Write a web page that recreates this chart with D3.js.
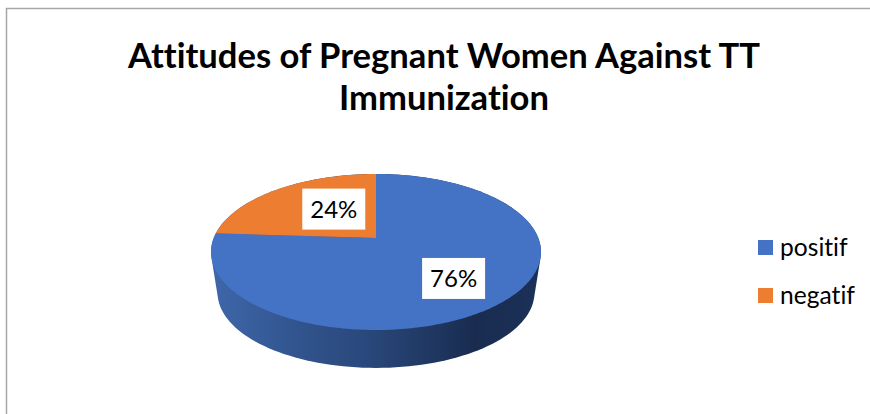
<!DOCTYPE html>
<html>
<head>
<meta charset="utf-8">
<script src="https://cdn.jsdelivr.net/npm/d3@7"></script>
<style>
  html, body { margin: 0; padding: 0; background: #fff; overflow: hidden; }
  text { font-family: Lato, "Open Sans", sans-serif; fill: #000; font-variant-ligatures: none; }
</style>
</head>
<body>
<svg id="chart" width="870" height="414"></svg>
<script>
// data
const categories = ["positif", "negatif"];
const shares = [76, 24];
const labels = ["76%", "24%"];
const titleLines = ["Attitudes of Pregnant Women Against TT", "Immunization"];
const colors = ["#4472c4", "#ed7d31"];

const svg = d3.select("#chart");

// chart frame, runs off the right and bottom of the picture
svg.append("rect")
  .attr("x", 6.5).attr("y", 8.5)
  .attr("width", 900).attr("height", 450)
  .attr("fill", "#fff")
  .attr("stroke", "#a6a6a6")
  .attr("stroke-width", 1.5);

// title
svg.append("g").selectAll("text")
  .data(titleLines)
  .join("text")
  .attr("x", 444)
  .attr("y", (d, i) => 68 + i * 42)
  .attr("text-anchor", "middle")
  .attr("font-size", 34.6)
  .attr("font-weight", 700)
  .text(d => d);

// pie is tilted with a bit of perspective, so the centre sits above the ellipse middle
const cx = 376, apexY = 238;
const persp = 0.1795, spreadX = 162.3, spreadY = 75.5;
const project = (angle, f = 1) => {
  const u = Math.sin(angle) * f;
  const v = -Math.cos(angle) * f;
  const w = 1 - persp * v;
  return [cx + spreadX * u / w, apexY + spreadY * v / w];
};
// bottom rim of the wall: same circle, a bit smaller and lower
const dropPoint = ([x, y]) => [cx + (x - cx) * 0.96, 252 + (y - 252) * 0.96 + 41];

const pie = d3.pie().sort(null);
const slices = pie(shares);
const line = d3.line();

const rim = d3.range(0, 360, 2).map(a => project(a * Math.PI / 180));

// wall
const grad = svg.append("defs").append("linearGradient")
  .attr("id", "wall")
  .attr("gradientUnits", "userSpaceOnUse")
  .attr("x1", 211).attr("x2", 541)
  .attr("y1", 0).attr("y2", 0);
[[0, "#3f67aa"], [0.25, "#32558f"], [0.5, "#284678"], [0.8, "#192c50"], [1, "#1c3159"]]
  .forEach(s => grad.append("stop").attr("offset", s[0]).attr("stop-color", s[1]));

const hull = d3.polygonHull(rim.concat(rim.map(dropPoint)));
svg.append("path")
  .attr("d", line(hull) + "Z")
  .attr("fill", "url(#wall)");

// top face
svg.append("g").selectAll("path")
  .data(slices)
  .join("path")
  .attr("fill", (d, i) => colors[i])
  .attr("d", d => {
    const steps = Math.ceil((d.endAngle - d.startAngle) * 60);
    const pts = d3.range(steps + 1).map(k =>
      project(d.startAngle + (d.endAngle - d.startAngle) * k / steps));
    return line([[cx, apexY], ...pts]) + "Z";
  });

// data labels on white boxes
const labelRadius = [0.64, 0.42];
const labelNudge = [[0, 2], [2, -7]];
const boxW = 63, boxH = 41;
const labelG = svg.append("g").selectAll("g")
  .data(slices)
  .join("g")
  .attr("transform", (d, i) => {
    const p = project((d.startAngle + d.endAngle) / 2, labelRadius[i]);
    return `translate(${p[0] + labelNudge[i][0]},${p[1] + labelNudge[i][1]})`;
  });
labelG.append("rect")
  .attr("x", -boxW / 2).attr("y", -boxH / 2)
  .attr("width", boxW).attr("height", boxH)
  .attr("fill", "#fff");
labelG.append("text")
  .attr("text-anchor", "middle")
  .attr("y", 8.5)
  .attr("font-size", 24)
  .text((d, i) => labels[i]);

// legend
const legendY = d3.scalePoint().domain(categories).range([247.5, 295.5]);
const legend = svg.append("g").selectAll("g")
  .data(categories)
  .join("g")
  .attr("transform", d => `translate(758,${legendY(d)})`);
legend.append("rect")
  .attr("y", -7.5)
  .attr("width", 15).attr("height", 15)
  .attr("fill", (d, i) => colors[i]);
legend.append("text")
  .attr("x", 22).attr("y", 8)
  .attr("font-size", 24.6)
  .text(d => d);
</script>
</body>
</html>
